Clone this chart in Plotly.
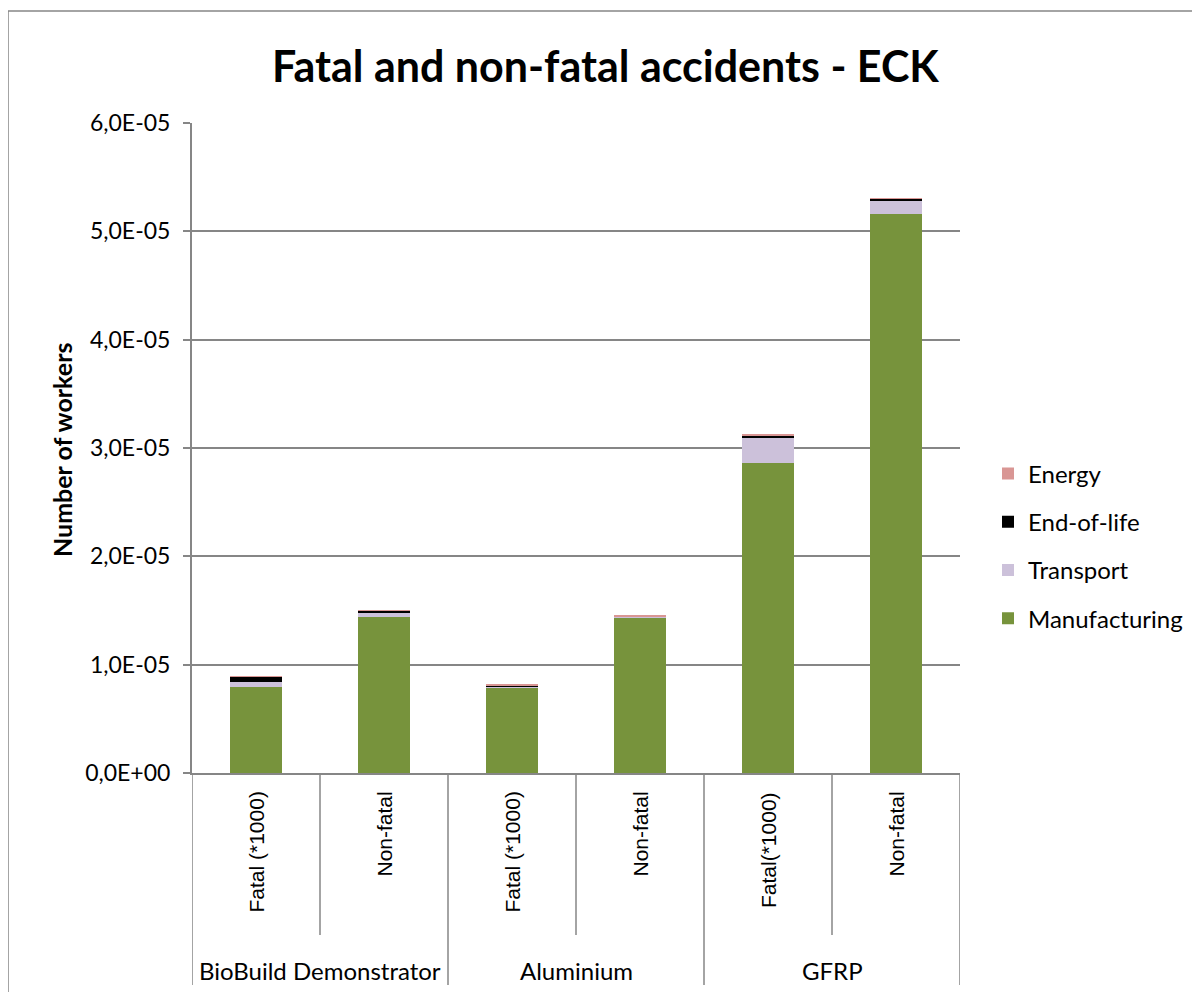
import plotly.graph_objects as go

groups = ["BioBuild Demonstrator", "BioBuild Demonstrator", "Aluminium", "Aluminium", "GFRP", "GFRP"]
subs = ["Fatal (*1000)", "Non-fatal", "Fatal (*1000)", "Non-fatal", "Fatal(*1000)", "Non-fatal"]
manufacturing = [7.97e-6, 1.443e-5, 7.91e-6, 1.435e-5, 2.864e-5, 5.157e-5]
transport = [0.46e-6, 0.31e-6, 0.03e-6, 0.05e-6, 2.37e-6, 1.29e-6]
end_of_life = [0.46e-6, 0.25e-6, 0.18e-6, 0.08e-6, 0.18e-6, 0.15e-6]
energy = [0.05e-6, 0.05e-6, 0.03e-6, 0.02e-6, 0.03e-6, 0.03e-6]
ytick_vals = [0, 1e-5, 2e-5, 3e-5, 4e-5, 5e-5, 6e-5]
ytick_text = ["0,0E+00", "1,0E-05", "2,0E-05", "3,0E-05", "4,0E-05", "5,0E-05", "6,0E-05"]

cats = [f"{g} | {s} | {i}" for i, (g, s) in enumerate(zip(groups, subs))]

series = [
    ("Manufacturing", manufacturing, "#77933C", 4),
    ("Transport", transport, "#CCC1DA", 3),
    ("End-of-life", end_of_life, "#000000", 2),
    ("Energy", energy, "#D99694", 1),
]

fig = go.Figure()
for name, vals, col, rank in series:
    fig.add_trace(go.Bar(x=cats, y=vals, name=name, legendgroup=name, legendrank=rank,
                         marker=dict(color=col, line=dict(width=0))))

GRID = "#868686"
FONT = "Lato, Open Sans, sans-serif"

def py(pix):
    return (773 - pix) / 650.0

def px(pix):
    return (pix - 192) / 768.0

fig.update_layout(
    width=1200, height=992,
    margin=dict(l=184, r=248, t=115, b=227),
    paper_bgcolor="white", plot_bgcolor="white",
    barmode="stack", bargap=0.6,
    font=dict(family=FONT, size=19, color="black"),
    showlegend=True,
    legend=dict(x=px(988), xanchor="left", y=py(546), yanchor="middle",
                traceorder="grouped", tracegroupgap=14,
                font=dict(family=FONT, size=24, color="black")),
    xaxis=dict(type="category", showticklabels=False, showgrid=False,
               showline=True, linecolor=GRID, linewidth=2, ticks="",
               range=[-0.5, 5.5], fixedrange=True),
    yaxis=dict(range=[0, 6e-5], tickvals=ytick_vals, ticktext=ytick_text,
               showgrid=True, gridcolor=GRID, gridwidth=1.5,
               showline=True, linecolor=GRID, linewidth=2,
               ticks="outside", ticklen=7, tickcolor=GRID, tickwidth=1.5,
               ticklabelstandoff=8,
               zeroline=False, tickfont=dict(size=23, family=FONT)),
)

annotations = []
annotations.append(dict(text="<b>Fatal and non-fatal accidents - ECK</b>", xref="paper", yref="paper",
                        x=px(605), y=py(65), xanchor="center", yanchor="middle",
                        showarrow=False, font=dict(size=43, family=FONT)))
annotations.append(dict(text="<b>Number of workers</b>", xref="paper", yref="paper",
                        x=px(62), y=py(450), xanchor="center", yanchor="middle",
                        textangle=-90, showarrow=False, font=dict(size=25, family=FONT)))
for i, (c, s) in enumerate(zip(cats, subs)):
    annotations.append(dict(text=s, xref="x", yref="paper", x=i, y=py(790),
                            xanchor="center", yanchor="top", textangle=-90, showarrow=False,
                            font=dict(size=21, family="Liberation Sans, Arial, sans-serif")))
seen = []
for i, g in enumerate(groups):
    if g in seen:
        continue
    seen.append(g)
    idx = [j for j, gg in enumerate(groups) if gg == g]
    annotations.append(dict(text=g, xref="x", yref="paper", x=(idx[0] + idx[-1]) / 2, y=py(970),
                            xanchor="center", yanchor="middle", showarrow=False,
                            font=dict(size=24, family=FONT)))
fig.update_layout(annotations=annotations)

shapes = []
for k in range(len(cats) + 1):
    xb = k - 0.5
    is_group = k == 0 or k == len(cats) or groups[k] != groups[k - 1]
    shapes.append(dict(type="line", xref="x", yref="paper", x0=xb, x1=xb,
                       y0=0, y1=py(985 if is_group else 935),
                       line=dict(color=GRID, width=1.5)))
# outer chart border
shapes.append(dict(type="rect", xref="paper", yref="paper",
                   x0=px(8), x1=px(1197), y0=py(1010), y1=py(11),
                   line=dict(color=GRID, width=1.5), fillcolor="rgba(0,0,0,0)", layer="below"))
fig.update_layout(shapes=shapes)

fig.write_html("out.html")
